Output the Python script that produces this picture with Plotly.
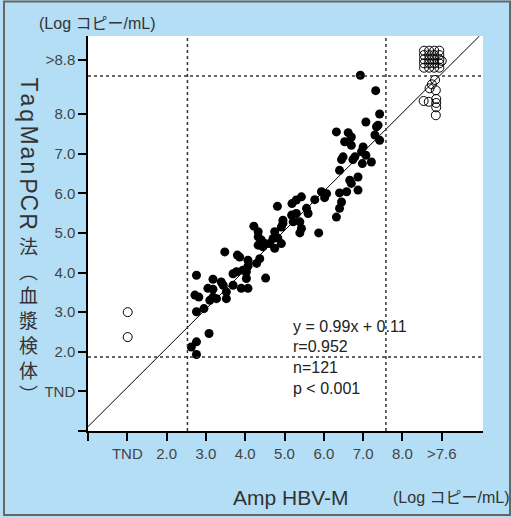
import plotly.graph_objects as go

# ---------------- data (axis units: TND=1, 2.0=2, ..., 8.0=8, ">7.6"/">8.8" at far end) -------------
amp_filled = [2.76, 2.63, 2.76, 3.08, 2.76, 2.95, 2.72, 2.82, 3.18, 3.27, 3.10, 3.52, 3.05, 3.18,
              3.52, 3.69, 3.90, 4.07, 3.39, 3.44, 3.18, 2.76, 3.69, 3.78, 3.94, 4.03, 4.03, 4.52,
              4.07, 3.48, 3.80, 3.86, 4.07, 4.37, 4.29, 4.22, 4.33, 4.41, 4.33, 4.50, 4.62, 4.75,
              4.92, 4.75, 4.83, 4.71, 4.45, 4.33, 4.82, 5.19, 5.30, 5.43, 5.18, 5.30, 4.96, 4.96,
              4.92, 5.39, 5.43, 5.39, 5.87, 5.60, 5.56, 5.77, 5.94, 6.07, 6.02, 6.40, 6.58, 6.45,
              6.40, 6.32, 6.87, 6.66, 6.70, 6.87, 6.40, 6.45, 6.49, 6.74, 6.79, 6.98, 7.21, 6.96,
              7.07, 7.00, 6.53, 6.70, 6.62, 6.70, 6.32, 7.07, 7.34, 7.30, 7.42, 7.32, 6.93, 7.42,
              7.38, 5.22]
taq_filled = [1.93, 2.12, 2.25, 2.46, 3.01, 3.09, 3.43, 3.38, 3.38, 3.34, 3.30, 3.34, 3.60, 3.58,
              3.51, 3.68, 3.60, 3.60, 3.76, 3.68, 3.83, 3.93, 3.97, 4.02, 4.06, 4.02, 3.85, 3.86,
              4.16, 4.52, 4.44, 4.39, 4.31, 4.35, 4.23, 5.17, 5.03, 4.82, 4.90, 4.73, 4.73, 4.61,
              4.73, 5.03, 4.87, 4.86, 4.65, 4.69, 5.67, 5.74, 5.83, 5.91, 5.45, 5.49, 5.32, 5.24,
              5.15, 5.28, 5.11, 5.00, 5.00, 5.49, 5.62, 5.84, 6.04, 5.99, 5.89, 6.01, 6.04, 5.78,
              5.62, 5.40, 6.08, 6.33, 6.25, 6.41, 6.58, 6.85, 6.92, 6.85, 6.92, 6.75, 6.79, 7.05,
              6.96, 7.17, 7.30, 7.21, 7.53, 7.42, 7.55, 7.80, 7.68, 7.47, 8.00, 8.59, 8.98, 7.34,
              7.72, 5.28]

amp_open = [1.01, 1.01,
            8.55, 8.68, 8.81, 8.94, 8.55, 8.68, 8.81, 8.94, 8.55, 8.68, 8.81, 8.94,
            8.55, 8.68, 8.81, 8.94, 8.55, 8.68, 8.81, 8.94, 9.00,
            8.83, 8.75, 8.69, 8.85, 8.54, 8.67, 8.86, 8.86, 8.86, 8.85]
taq_open = [3.00, 2.37,
            9.60, 9.60, 9.60, 9.60, 9.49, 9.49, 9.49, 9.49, 9.38, 9.38, 9.38, 9.38,
            9.28, 9.28, 9.28, 9.28, 9.17, 9.17, 9.17, 9.17, 9.34,
            8.86, 8.75, 8.65, 8.60, 8.33, 8.31, 8.38, 8.28, 8.17, 7.97]

x_tickvals = [0, 1, 2, 3, 4, 5, 6, 7, 8, 9]
x_ticktext = ["", "TND", "2.0", "3.0", "4.0", "5.0", "6.0", "7.0", "8.0", ">7.6"]
y_tickvals = [0, 1, 2, 3, 4, 5, 6, 7, 8, 9.36]
y_ticktext = ["", "TND", "2.0", "3.0", "4.0", "5.0", "6.0", "7.0", "8.0", ">8.8"]

slope, intercept = 0.99, 0.11
amp_limits = [2.53, 7.58]
taq_limits = [1.87, 8.96]
stats_lines = ["y = 0.99x + 0.11", "r=0.952", "n=121", "p &lt; 0.001"]

X_RANGE = [0, 10.05]
Y_RANGE = [0, 9.97]

# ---------------- figure -------------
W, H = 511, 517
ML, MR, MT, MB = 88, 28, 36, 86
PW, PH = W - ML - MR, H - MT - MB

def px(xp):  # pixel -> paper x
    return (xp - ML) / PW

def py(yp):  # pixel -> paper y
    return (H - MB - yp) / PH

fig = go.Figure()

# regression line (white halo + black line)
x_end = (Y_RANGE[1] - intercept) / slope
reg_x = [0, x_end]
reg_y = [intercept + slope * v for v in reg_x]
fig.add_trace(go.Scatter(x=reg_x, y=reg_y, mode="lines",
                         line=dict(color="white", width=3.5), hoverinfo="skip", showlegend=False))

fig.add_trace(go.Scatter(x=amp_filled, y=taq_filled, mode="markers",
                         marker=dict(color="black", size=9, line=dict(width=0)),
                         showlegend=False))
fig.add_trace(go.Scatter(x=reg_x, y=reg_y, mode="lines",
                         line=dict(color="black", width=1), hoverinfo="skip", showlegend=False))
fig.add_trace(go.Scatter(x=amp_open, y=taq_open, mode="markers",
                         marker=dict(color="rgba(0,0,0,0)", size=9,
                                     line=dict(color="black", width=1)),
                         showlegend=False))

# threshold dashed lines
dash = dict(color="#333", width=1.5, dash="3px,3px")
for v in amp_limits:
    fig.add_shape(type="line", xref="x", yref="paper", x0=v, x1=v, y0=0, y1=1, line=dash)
for v in taq_limits:
    fig.add_shape(type="line", xref="paper", yref="y", x0=0, x1=1, y0=v, y1=v, line=dash)

# outer frame
fig.add_shape(type="rect", xref="paper", yref="paper",
              x0=px(4), x1=px(510), y0=py(515), y1=py(1.5),
              line=dict(color="#666", width=2), fillcolor="rgba(0,0,0,0)", layer="above")

txt_font = "Liberation Sans, Arial, sans-serif"
jp_font = "Liberation Sans, Noto Sans CJK JP, sans-serif"

# stats text
for i, s in enumerate(stats_lines):
    fig.add_annotation(xref="paper", yref="paper", x=px(291), y=py(326 + i * 20.8),
                       text=s, showarrow=False, xanchor="left", yanchor="middle",
                       font=dict(family=txt_font, size=16, color="#222"))

# unit labels
fig.add_annotation(xref="paper", yref="paper", x=px(96.5), y=py(23), text="(Log コピー/mL)",
                   showarrow=False, xanchor="center", yanchor="middle",
                   font=dict(family=jp_font, size=16, color="#333"))
fig.add_annotation(xref="paper", yref="paper", x=px(450.5), y=py(497), text="(Log コピー/mL)",
                   showarrow=False, xanchor="center", yanchor="middle",
                   font=dict(family=jp_font, size=16, color="#333"))
fig.add_annotation(xref="paper", yref="paper", x=px(290.5), y=py(497), text="Amp HBV-M",
                   showarrow=False, xanchor="center", yanchor="middle",
                   font=dict(family=txt_font, size=21, color="#333"))

# vertical y-axis title: Latin letters rotated, CJK upright (stacked)
latin = list("TaqManPCR")
latin_y = [84, 100, 115.7, 135, 153, 168, 185.8, 203, 221.7]
for ch, yy in zip(latin, latin_y):
    fig.add_annotation(xref="paper", yref="paper", x=px(28.5), y=py(yy), text=ch,
                       textangle=90, showarrow=False, xanchor="center", yanchor="middle",
                       font=dict(family=txt_font, size=23, color="#333"))
cjk = ["法", "︵", "血", "漿", "検", "体", "︶"]
fig.add_annotation(xref="paper", yref="paper", x=px(28.5), y=py(230), text="<br>".join(cjk),
                   showarrow=False, xanchor="center", yanchor="top", align="center",
                   font=dict(family="Noto Sans CJK JP, sans-serif", size=19, color="#333"))

axis_common = dict(showgrid=False, zeroline=False, showline=True, linecolor="black", linewidth=1.5,
                   ticks="outside", ticklen=8, tickwidth=1.5, tickcolor="black",
                   tickfont=dict(family=txt_font, size=15, color="#444"), mirror=False)

fig.update_layout(
    width=W, height=H,
    margin=dict(l=ML, r=MR, t=MT, b=MB, pad=0),
    paper_bgcolor="#b3def5",
    plot_bgcolor="white",
    xaxis=dict(range=X_RANGE, tickmode="array", tickvals=x_tickvals, ticktext=x_ticktext,
               **axis_common),
    yaxis=dict(range=Y_RANGE, tickmode="array", tickvals=y_tickvals, ticktext=y_ticktext,
               **axis_common),
    showlegend=False,
)

fig.write_html("out.html", config={"displayModeBar": False},
               post_script="document.body.style.margin='0';document.body.style.overflow='hidden';")
